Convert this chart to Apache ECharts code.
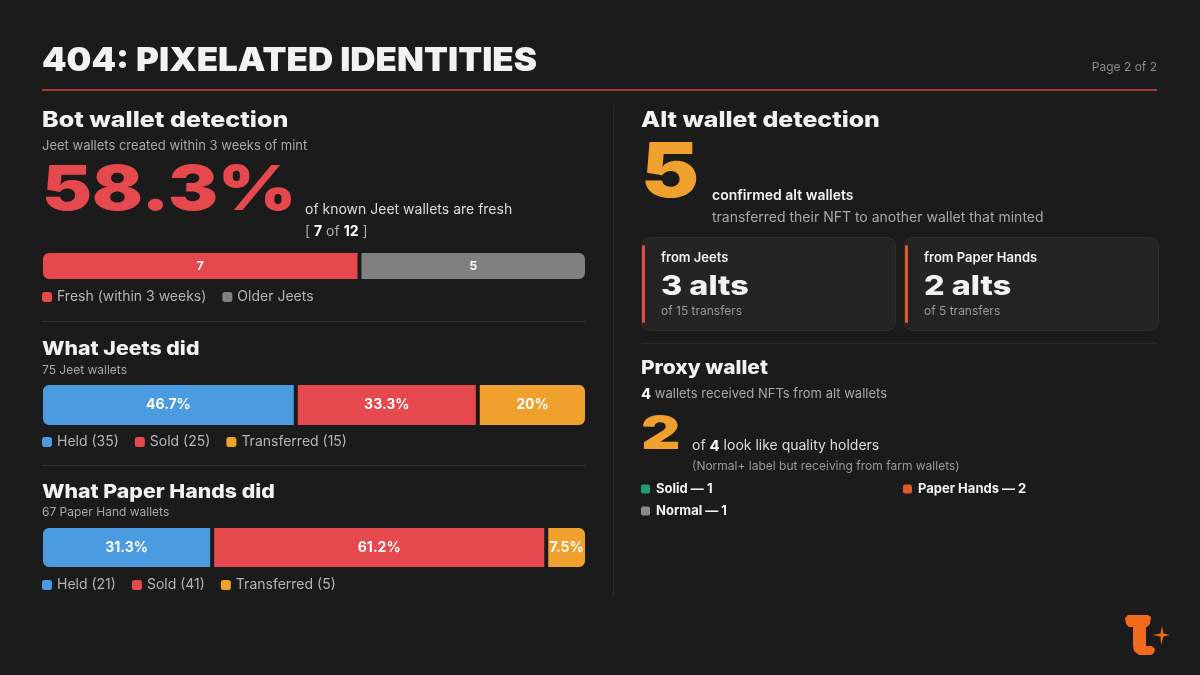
<!DOCTYPE html>
<html>
<head>
<meta charset="utf-8">
<script src="https://cdn.jsdelivr.net/npm/echarts@6/dist/echarts.min.js"></script>
<style>html,body{margin:0;background:#1b1b1b}#main{width:1200px;height:675px}</style>
</head>
<body>
<div id="main"></div>
<script>
// data
var botCats = ['Fresh (within 3 weeks)', 'Older Jeets'];
var botVals = [7, 5];
var actCats = ['Held', 'Sold', 'Transferred'];
var jeetVals = [35, 25, 15];
var paperVals = [21, 41, 5];
var altFrom = ['from Jeets', 'from Paper Hands'];
var altCount = [3, 2];
var altTransfers = [15, 5];
var proxyCats = ['Solid', 'Paper Hands', 'Normal'];
var proxyVals = [1, 2, 1];
var proxyReceived = 4;
var proxyQuality = 2;

var BG = '#1b1b1b', RED = '#e5484d', BLUE = '#4a9be0', ORANGE = '#f0a02c',
    GRAY = '#808080', FLAME = '#e05a2b', GREEN = '#1f9e6e';
var FONT = 'Inter, "Noto Sans", sans-serif';

function sum(a){ var s = 0; for (var i = 0; i < a.length; i++) s += a[i]; return s; }
function pct(v, t){
  var p = (v / t * 100).toFixed(1);
  if (p.slice(-2) == '.0') p = p.slice(0, -2);
  return p + '%';
}

// text helper
function T(x, y, text, size, color, weight, extra){
  var o = {type: 'text', x: x, y: y, silent: true, style: {
    text: text, fill: color, fontSize: size, fontWeight: weight || 'normal', fontFamily: FONT,
    align: 'left', verticalAlign: 'middle', textAlign: 'left', textVerticalAlign: 'middle'}};
  if (extra) {
    for (var k in extra) {
      if (k == 'style') { for (var s in extra.style) o.style[s] = extra.style[s]; }
      else o[k] = extra[k];
    }
  }
  return o;
}
function line(x1, y1, x2, y2, color, w){
  return {type: 'line', silent: true, shape: {x1: x1, y1: y1, x2: x2, y2: y2}, style: {stroke: color, lineWidth: w || 1}};
}

// stacked bars (bg-coloured border makes the 2px gaps)
function stackBars(idx, names, vals, colors, fmt, fs){
  var total = sum(vals);
  return vals.map(function(v, i){
    var r = [0, 0, 0, 0];
    if (i == 0) r = [7, 0, 0, 7];
    if (i == vals.length - 1) r = [0, 7, 7, 0];
    return {
      type: 'bar', name: names[i], stack: 's' + idx, xAxisIndex: idx, yAxisIndex: idx,
      data: [v], barWidth: '100%', silent: true,
      itemStyle: {color: colors[i], borderRadius: r, borderColor: BG, borderWidth: 2},
      label: {show: true, position: 'inside', color: '#fff', fontWeight: 'bold', fontSize: fs,
        fontFamily: FONT, formatter: function(){ return fmt(v, total); }}
    };
  });
}

var jeetNames = actCats.map(function(c, i){ return c + ' (' + jeetVals[i] + ')'; });
var paperNames = actCats.map(function(c, i){ return c + ' (' + paperVals[i] + ')'; });
var actColors = [BLUE, RED, ORANGE];

var series = []
  .concat(stackBars(0, botCats, botVals, [RED, GRAY], function(v){ return String(v); }, 12))
  .concat(stackBars(1, jeetNames, jeetVals, actColors, pct, 14))
  .concat(stackBars(2, paperNames, paperVals, actColors, pct, 14));

var grids = [
  {left: 41, top: 251, width: 546, height: 30},
  {left: 41, top: 383, width: 546, height: 44},
  {left: 41, top: 526, width: 546, height: 43}
];
var totals = [sum(botVals), sum(jeetVals), sum(paperVals)];
var xAxes = totals.map(function(t, i){ return {type: 'value', gridIndex: i, min: 0, max: t, show: false}; });
var yAxes = totals.map(function(t, i){ return {type: 'category', gridIndex: i, data: ['a'], show: false}; });

function legendAt(top, names){
  return {data: names, left: 42, top: top, padding: 0, icon: 'roundRect', itemWidth: 10, itemHeight: 10,
    itemGap: 16, selectedMode: false, itemStyle: {borderWidth: 0},
    textStyle: {color: '#b4b4b4', fontSize: 14, fontFamily: FONT}};
}

// graphic elements
var g = [];
g.push(T(42, 61, '404: PIXELATED IDENTITIES', 33, '#f2f2f2', 900, {scaleX: 1.06}));
g.push(T(1157, 67, 'Page 2 of 2', 12, '#8a8a8a', 'normal', {style: {align: 'right', textAlign: 'right'}}));
g.push(line(42, 90, 1157, 90, '#a03c3c', 2));
g.push(line(613.5, 105, 613.5, 595, '#2e2e2e', 1));

// left column
var freshPct = pct(botVals[0], sum(botVals));
g.push(T(42, 120, 'Bot wallet detection', 22, '#f2f2f2', 800, {scaleX: 1.14}));
g.push(T(42, 146, 'Jeet wallets created within 3 weeks of mint', 13, '#a8a8a8'));
g.push(T(42, 191, freshPct, 62, RED, 900, {scaleX: 1.21}));
g.push(T(305, 210, 'of known Jeet wallets are fresh', 14, '#dcdcdc'));
g.push(T(305, 232, '[ {b|' + botVals[0] + '} of {b|' + sum(botVals) + '} ]', 14, '#aaaaaa', 'normal',
  {style: {rich: {b: {fill: '#ffffff', fontWeight: 'bold', fontSize: 14, fontFamily: FONT}}}}));
g.push(line(42, 321.5, 586, 321.5, '#2e2e2e', 1));
g.push(T(42, 349, 'What Jeets did', 19, '#f2f2f2', 800, {scaleX: 1.12}));
g.push(T(42, 370, sum(jeetVals) + ' Jeet wallets', 12, '#a8a8a8'));
g.push(line(42, 465.5, 586, 465.5, '#2e2e2e', 1));
g.push(T(42, 492, 'What Paper Hands did', 19, '#f2f2f2', 800, {scaleX: 1.12}));
g.push(T(42, 512, sum(paperVals) + ' Paper Hand wallets', 12, '#a8a8a8'));

// right column
g.push(T(641, 120, 'Alt wallet detection', 22, '#f2f2f2', 800, {scaleX: 1.13}));
g.push(T(641, 174, String(sum(altCount)), 76, ORANGE, 900, {scaleX: 1.15}));
g.push(T(712, 196, 'confirmed alt wallets', 14, '#f2f2f2', 600));
g.push(T(712, 218, 'transferred their NFT to another wallet that minted', 14, '#a8a8a8'));

var accent = [RED, FLAME];
altFrom.forEach(function(name, i){
  var cx = 641 + i * 263;
  g.push({type: 'rect', silent: true, shape: {x: cx + 0.5, y: 237.5, width: 254, height: 93, r: 8},
    style: {fill: '#242424', stroke: '#2e2e2e', lineWidth: 1}});
  g.push({type: 'rect', silent: true, shape: {x: cx + 1, y: 245, width: 3, height: 78, r: 1.5},
    style: {fill: accent[i]}});
  g.push(T(cx + 20, 258, name, 13, '#f2f2f2', 600));
  g.push(T(cx + 20, 287, altCount[i] + ' alts', 27, '#f2f2f2', 800, {scaleX: 1.2}));
  g.push(T(cx + 20, 311, 'of ' + altTransfers[i] + ' transfers', 12, '#999999'));
});

g.push(line(641, 343.5, 1158, 343.5, '#2e2e2e', 1));
g.push(T(641, 368, 'Proxy wallet', 19, '#f2f2f2', 800, {scaleX: 1.1}));
g.push(T(641, 394, '{b|' + proxyReceived + '} wallets received NFTs from alt wallets', 13, '#a8a8a8', 'normal',
  {style: {rich: {b: {fill: '#ffffff', fontWeight: 'bold', fontSize: 15, fontFamily: FONT}}}}));
g.push(T(641, 435, String(proxyQuality), 47, ORANGE, 900, {scaleX: 1.3}));
g.push(T(692, 446, 'of {b|' + proxyReceived + '} look like quality holders', 14, '#dcdcdc', 'normal',
  {style: {rich: {b: {fill: '#ffffff', fontWeight: 'bold', fontSize: 15, fontFamily: FONT}}}}));
g.push(T(692, 466, '(Normal+ label but receiving from farm wallets)', 12, '#999999'));

var proxyColors = [GREEN, FLAME, '#8a8a8a'];
proxyCats.forEach(function(c, i){
  var px = 641 + (i % 2) * 262, py = 489 + Math.floor(i / 2) * 22;
  g.push({type: 'rect', silent: true, shape: {x: px, y: py - 4.5, width: 9, height: 9, r: 2}, style: {fill: proxyColors[i]}});
  g.push(T(px + 15, py, c + ' \u2014 ' + proxyVals[i], 13, '#f2f2f2', 700));
});

// logo
g.push({type: 'polygon', silent: true, shape: {points: [
  [1128, 615], [1148, 615], [1151, 617], [1150, 624], [1147, 627], [1146, 627], [1146, 646],
  [1152, 646], [1155, 649], [1154, 653], [1151, 655], [1139, 655], [1134, 651], [1133, 646],
  [1133, 627], [1129, 627], [1126, 624], [1125, 618]]}, style: {fill: '#f26a1b'}});
g.push({type: 'polygon', silent: true, shape: {points: [
  [1162, 626], [1163.5, 633.5], [1170, 635], [1163.5, 636.5], [1161, 645], [1160.5, 636.5],
  [1153, 635], [1160.5, 633.5]]}, style: {fill: '#f26a1b'}});

var myChart = echarts.init(document.getElementById('main'));
myChart.setOption({
  backgroundColor: BG,
  animation: false,
  grid: grids,
  xAxis: xAxes,
  yAxis: yAxes,
  legend: [legendAt(290, botCats), legendAt(435, jeetNames), legendAt(578, paperNames)],
  series: series,
  graphic: {elements: g}
});
</script>
</body>
</html>
